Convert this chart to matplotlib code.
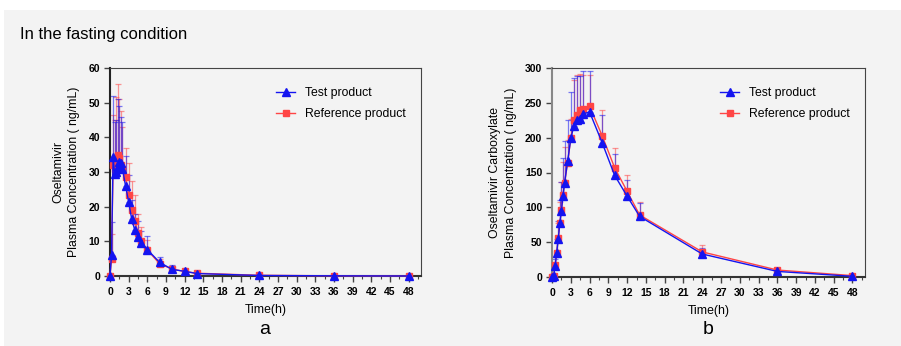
import matplotlib
matplotlib.use("Agg")
import matplotlib.pyplot as plt
from matplotlib.patches import Rectangle
from matplotlib.ticker import MultipleLocator
import numpy as np

plt.rcParams['font.family'] = ['Liberation Sans', 'DejaVu Sans']

time_h = [0, 0.25, 0.5, 0.75, 1, 1.25, 1.5, 1.75, 2, 2.5, 3, 3.5, 4, 4.5, 5, 6, 8, 10, 12, 14, 24, 36, 48]

# Panel a: Oseltamivir
osel_test = [0, 6.2, 34.4, 29.3, 30.0, 31.5, 32.8, 32.5, 31.0, 26.0, 21.4, 16.3, 13.2, 11.3, 9.5, 7.6, 3.9, 1.9, 1.35, 0.7, 0.15, 0.05, 0]
osel_test_up = [0, 15.6, 51.8, 44.5, 45.0, 51.0, 49.0, 46.0, 44.5, 34.5, 29.0, 22.0, 18.0, 16.0, 13.0, 11.5, 5.5, 3.2, 2.0, 1.2, 0.3, 0.1, 0]
osel_ref = [0, 5.0, 32.0, 31.0, 33.0, 35.0, 34.0, 32.0, 31.0, 28.6, 23.5, 19.0, 16.0, 12.5, 10.0, 7.5, 3.5, 2.0, 1.3, 0.8, 0.2, 0.05, 0]
osel_ref_up = [0, 12.0, 46.5, 45.0, 51.5, 55.5, 51.0, 47.5, 43.0, 37.0, 32.5, 27.5, 23.5, 18.0, 14.0, 10.5, 5.0, 3.0, 2.0, 1.2, 0.3, 0.1, 0]

# Panel b: Oseltamivir Carboxylate
carb_test = [0, 1, 16, 35, 55, 77, 95, 116, 135, 166, 199, 217, 226, 227, 234, 237, 193, 146, 116, 87, 33, 8, 1]
carb_test_up = [0, 3, 26, 55, 80, 111, 137, 171, 195, 226, 265, 285, 288, 288, 295, 295, 233, 176, 139, 106, 42, 12, 3]
carb_ref = [0, 1, 17, 35, 56, 77, 96, 117, 135, 164, 199, 225, 233, 239, 241, 245, 203, 157, 123, 89, 36, 10, 2]
carb_ref_up = [0, 3, 28, 50, 78, 108, 137, 165, 186, 197, 227, 283, 290, 292, 290, 290, 239, 185, 147, 107, 46, 13, 4]

x_ticks = list(range(0, 49, 3))
ya_ticks = [0, 10, 20, 30, 40, 50, 60]
yb_ticks = [0, 50, 100, 150, 200, 250, 300]

BLUE = '#1414f0'
RED = '#ff4545'
BG = '#f3f3f3'

W, H = 901, 346
fig = plt.figure(figsize=(W / 100, H / 100), dpi=100, facecolor='white')
fig.patches.append(Rectangle((4 / W, 0), 1, (H - 10) / H, transform=fig.transFigure,
                             facecolor=BG, edgecolor='none', zorder=-10))

fig.text(20 / W, 1 - 34 / H, 'In the fasting condition', fontsize=12, va='center', ha='left')


def panel(rect, t, test, test_up, ref, ref_up, yticks, ylabel, letter, left_spine_color, lx):
    ax = fig.add_axes(rect)
    ax.set_facecolor(BG)
    t = np.array(t)
    handles = {}
    for name, y, up, col, mk, ms in (('ref', ref, ref_up, RED, 's', 5),
                                     ('test', test, test_up, BLUE, '^', 5.5)):
        y = np.array(y, dtype=float)
        up = np.array(up, dtype=float)
        err = np.clip(up - y, 0, None)
        ax.errorbar(t, y, yerr=[np.zeros_like(err), err], fmt='none', ecolor=col,
                    elinewidth=0.9, capsize=2.5, capthick=0.9, alpha=0.55, clip_on=False)
        ln, = ax.plot(t, y, color=col, lw=1.0, marker=mk, ms=ms, mec=col, mfc=col,
                      clip_on=False, zorder=3)
        handles[name] = ln
    ax.set_xlim(0, 50)
    ax.set_ylim(yticks[0], yticks[-1])
    ax.set_xticks(x_ticks)
    ax.xaxis.set_minor_locator(MultipleLocator(1.5))
    ax.set_yticks(yticks)
    ax.tick_params(axis='both', which='major', direction='out', length=4, width=1,
                   labelsize=7.5, color='#444444')
    ax.tick_params(axis='x', which='major', pad=4)
    ax.tick_params(axis='y', which='major', pad=3)
    ax.tick_params(axis='x', which='minor', direction='out', length=2.5, width=0.8,
                   color='#444444')
    for lab in ax.get_xticklabels() + ax.get_yticklabels():
        lab.set_fontweight('bold')
    ax.spines['left'].set_color(left_spine_color)
    ax.spines['left'].set_linewidth(1.5)
    ax.spines['bottom'].set_color('#333333')
    ax.spines['bottom'].set_linewidth(1.5)
    for s in ('top', 'right'):
        ax.spines[s].set_color('#444444')
        ax.spines[s].set_linewidth(0.8)
    ax.set_ylabel(ylabel, fontsize=8.8, linespacing=1.45, labelpad=6)
    ax.set_xlabel('Time(h)', fontsize=8.8, labelpad=5)
    fig.text(lx / W, 1 - 329 / H, letter, fontsize=14, ha='center', va='center')
    ax.legend([handles['test'], handles['ref']], ['Test product', 'Reference product'],
              loc='upper right', bbox_to_anchor=(0.985, 0.96), frameon=False, fontsize=8.8,
              handlelength=1.5, labelspacing=0.7, handletextpad=0.8)
    return ax


panel([110 / W, 1 - 276 / H, 311 / W, 208 / H], time_h, osel_test, osel_test_up,
      osel_ref, osel_ref_up, ya_ticks, 'Oseltamivir\nPlasma Concentration ( ng/mL)', 'a',
      '#222222', 265)
panel([552 / W, 1 - 277 / H, 313 / W, 209 / H], time_h, carb_test, carb_test_up,
      carb_ref, carb_ref_up, yb_ticks, 'Oseltamivir Carboxylate\nPlasma Concentration ( ng/mL)', 'b',
      '#888888', 708)

fig.savefig('out.png', dpi=100, facecolor='white')
